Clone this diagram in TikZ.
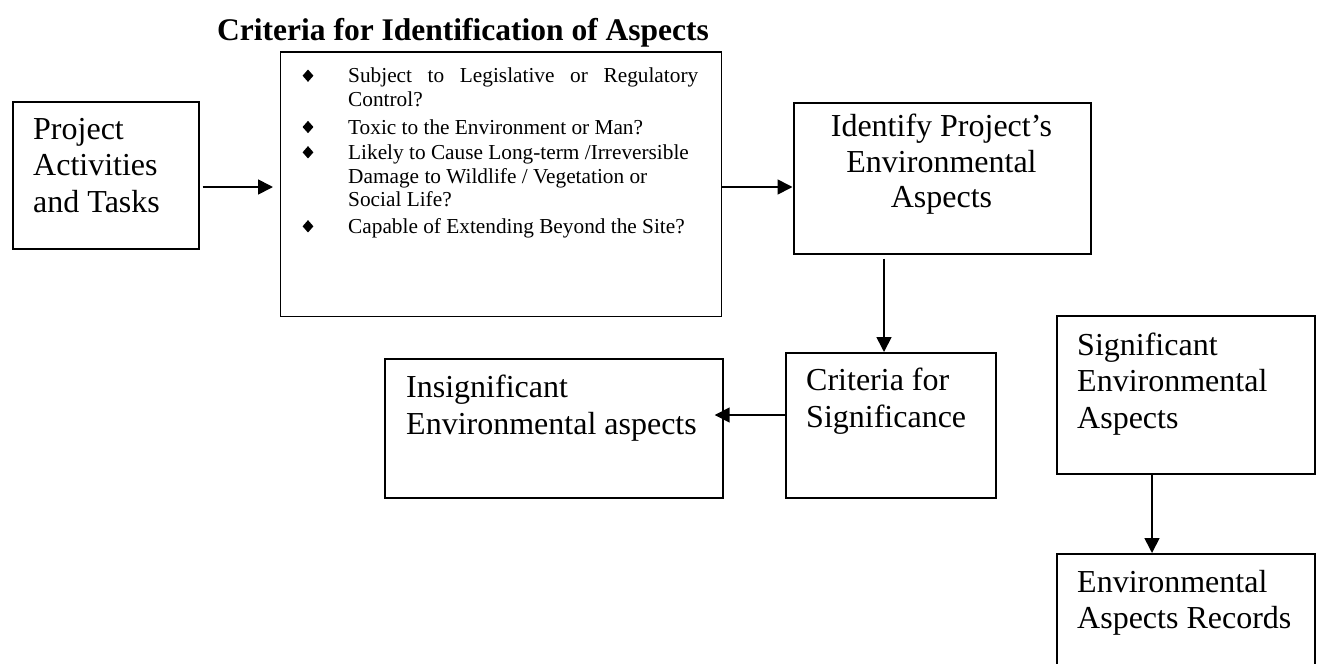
\documentclass[tikz,border=0pt]{standalone}
\usepackage{fontspec}
\setmainfont{Liberation Serif}
\usetikzlibrary{arrows.meta,shapes.geometric}
\begin{document}
\begin{tikzpicture}[x=1pt,y=-1pt,
  box/.style={draw, line width=1.7pt, inner sep=0pt, anchor=north west},
  big/.style={anchor=base west, inner sep=0pt, font=\fontsize{32}{36}\selectfont},
  bigc/.style={anchor=base, inner sep=0pt, font=\fontsize{32}{36}\selectfont},
  small/.style={anchor=base west, inner sep=0pt, font=\fontsize{21.3}{24}\selectfont},
  bullet/.style={diamond, fill=black, inner sep=0pt, minimum width=11pt, minimum height=12.5pt},
  arr/.style={line width=1.7pt, -{Triangle[length=15pt,width=15pt]}}
]
\clip (0,0) rectangle (1320,664);
\fill[white] (0,0) rectangle (1320,664);

% heading
\node[anchor=base west, inner sep=0pt, font=\fontsize{31.5}{36}\selectfont\bfseries]
  (title) at (217,40) {Criteria for Identification of Aspects};

% boxes
\node[box, minimum width=186pt, minimum height=147pt] (proj) at (12,101) {};
\node[box, minimum width=441pt, minimum height=264.5pt] (crit) at (279.5,51) {};
\node[box, minimum width=297pt, minimum height=151pt] (ident) at (793,102) {};
\node[box, minimum width=210pt, minimum height=145pt] (sig) at (785,352) {};
\node[box, minimum width=338pt, minimum height=139pt] (insig) at (384,358) {};
\node[box, minimum width=258pt, minimum height=158pt] (sigenv) at (1056,315) {};
\node[box, minimum width=258pt, minimum height=160pt] (records) at (1056,553) {};

% project activities
\node[big] (p1) at (33,139) {Project};
\node[big] (p2) at (33,175.5) {Activities};
\node[big] (p3) at (33,212) {and Tasks};

% criteria list
\node[bullet] (d1) at (308,75.7) {};
\node[bullet] (d2) at (308,127) {};
\node[bullet] (d3) at (308,152.3) {};
\node[bullet] (d4) at (308,226.3) {};
\node[small] (c1) at (348,82.7) {\makebox[350pt][s]{Subject to Legislative or Regulatory}};
\node[small] (c2) at (348,106) {Control?};
\node[small] (c3) at (348,134) {Toxic to the Environment or Man?};
\node[small] (c4) at (348,159.3) {Likely to Cause Long-term /Irreversible};
\node[small] (c5) at (348,183.3) {Damage to Wildlife / Vegetation or};
\node[small] (c6) at (348,206.7) {Social Life?};
\node[small] (c7) at (348,233.3) {Capable of Extending Beyond the Site?};

% identify aspects
\node[bigc] (i1) at (941.5,136.5) {Identify Project’s};
\node[bigc] (i2) at (941.5,172) {Environmental};
\node[bigc] (i3) at (941.5,207.5) {Aspects};

% criteria for significance
\node[big] (s1) at (806,390) {Criteria for};
\node[big] (s2) at (806,427) {Significance};

% insignificant
\node[big] (n1) at (406,397) {Insignificant};
\node[big] (n2) at (406,434) {Environmental aspects};

% significant
\node[big] (g1) at (1077,355) {Significant};
\node[big] (g2) at (1077,391.7) {Environmental};
\node[big] (g3) at (1077,428.3) {Aspects};

% records
\node[big] (r1) at (1077,592) {Environmental};
\node[big] (r2) at (1077,628.3) {Aspects Records};

% connectors
\coordinate (ya) at (0,187);
\coordinate (yb) at (0,415);
\coordinate (xa) at (884,0);
\coordinate (xb) at (1152,0);
\draw[arr, shorten <=3pt, shorten >=6.5pt] (proj.east |- ya) -- (crit.west |- ya);
\draw[arr, shorten >=0.5pt] (crit.east |- ya) -- (ident.west |- ya);
\draw[arr, shorten <=4pt] (ident.south -| xa) -- (sig.north -| xa);
\draw[arr, shorten >=-9pt] (sig.west |- yb) -- (insig.east |- yb);
\draw[arr] (sigenv.south -| xb) -- (records.north -| xb);
\end{tikzpicture}
\end{document}
